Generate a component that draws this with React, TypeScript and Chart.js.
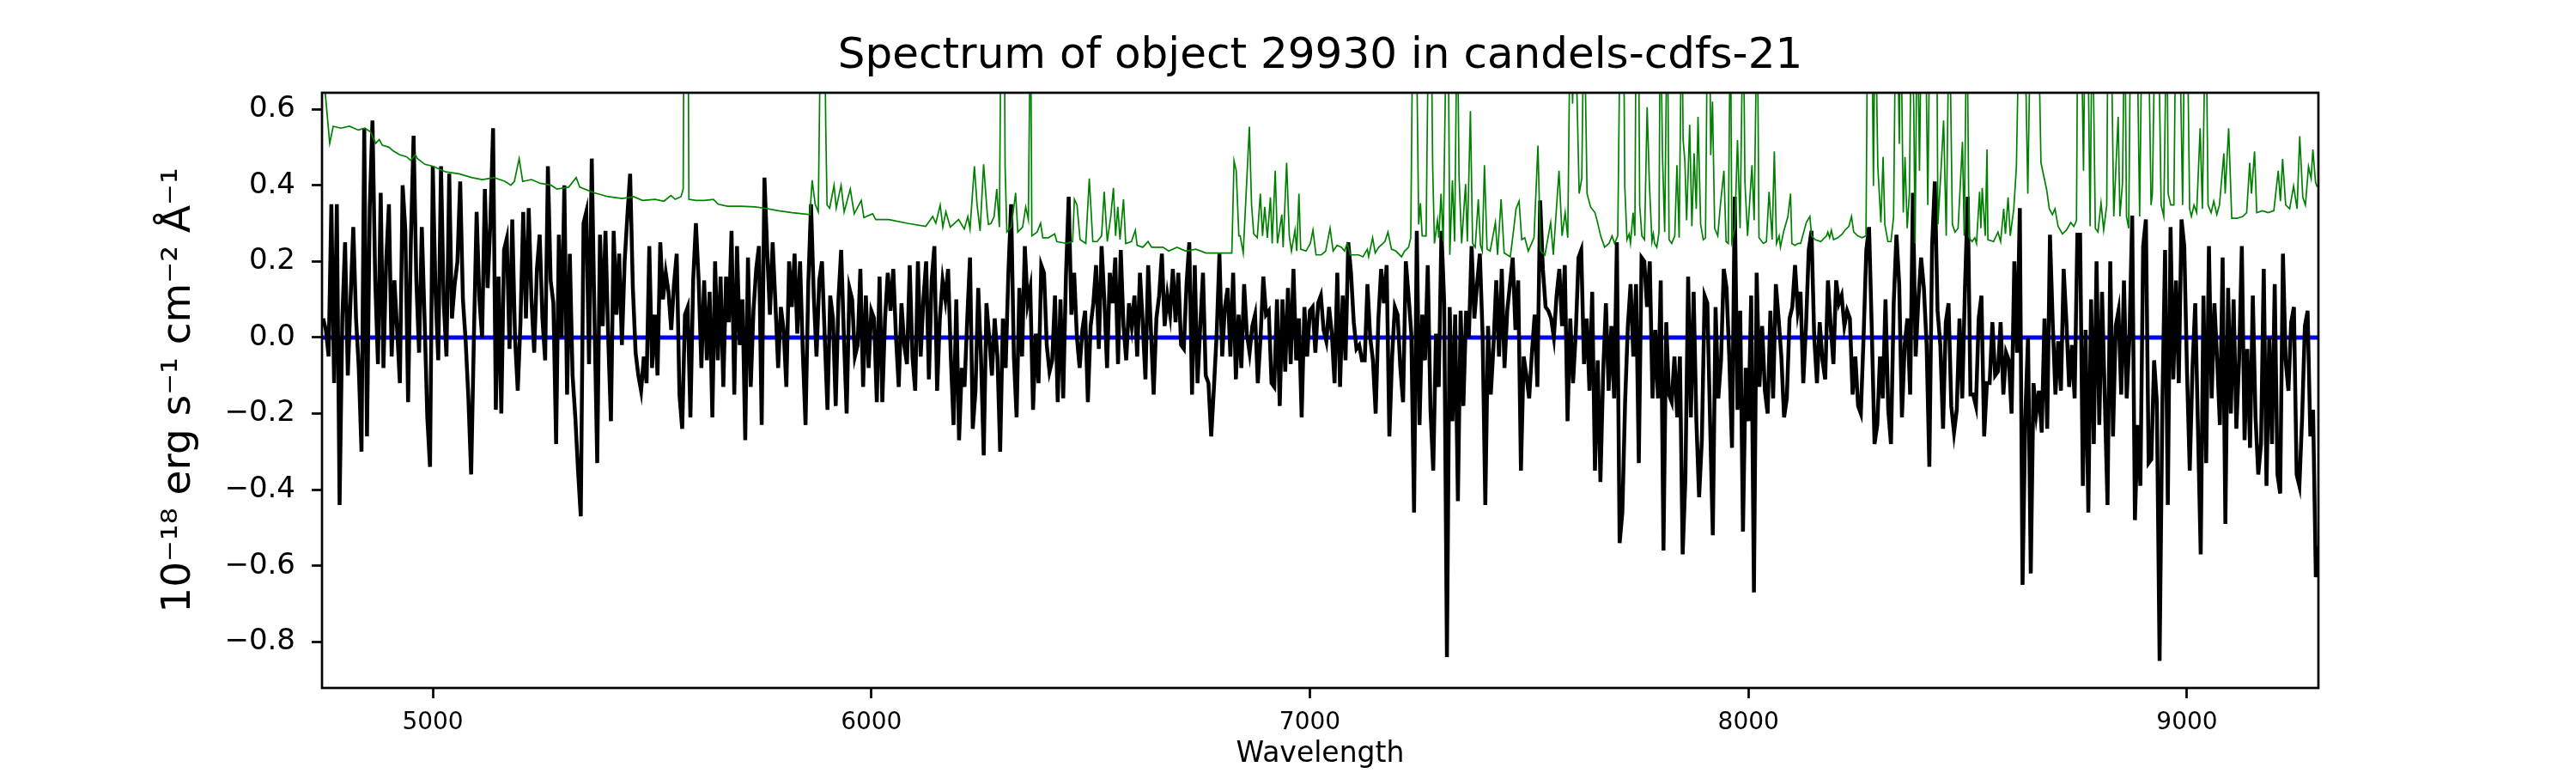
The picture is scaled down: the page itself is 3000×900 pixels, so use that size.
import { useEffect, useRef } from "react";
import Chart from "chart.js/auto";

const TITLE = "Spectrum of object 29930 in candels-cdfs-21";
const X_LABEL = "Wavelength";
const Y_LABEL = "10\u207B\u00B9\u2078 erg s\u207B\u00B9 cm\u207B\u00B2 \u00C5\u207B\u00B9";

// wavelength grid of the flux spectrum (Angstrom)
const WAVE_START = 4750;
const WAVE_STEP = 6.25;

// object flux, one value per grid step
const FLUX = [
  // 4750 - 5506
  0.05, 0.02, -0.05, 0.35, -0.12, 0.35, -0.44, 0.05, 0.25, -0.10,
  0.10, 0.29, 0.05, -0.08, -0.30, 0.55, -0.26, 0.34, 0.57, 0.15,
  -0.07, 0.38, -0.08, 0.20, 0.35, -0.05, 0.15, 0.02, -0.12, 0.40,
  0.28, -0.17, 0.25, 0.53, 0.15, -0.04, 0.29, 0.05, -0.21, -0.34,
  0.45, 0.12, -0.06, 0.45, 0.09, -0.05, 0.43, 0.05, 0.14, 0.20,
  0.41, 0.10, -0.01, -0.16, -0.36, 0.00, 0.33, 0.10, 0.00, 0.39,
  0.13, 0.30, 0.55, -0.19, 0.16, -0.20, 0.23, 0.26, -0.03, 0.31,
  0.00, -0.14, 0.04, 0.33, 0.05, 0.34, 0.10, -0.04, 0.18, 0.27,
  0.05, -0.06, 0.45, 0.15, 0.09, -0.28, 0.27, 0.00, 0.40, -0.15,
  0.22, -0.10, -0.21, -0.35, -0.47, 0.30, 0.33, -0.07, 0.47, 0.05,
  -0.33, 0.27, 0.03, 0.28, 0.00, -0.22, 0.28, 0.06, 0.22, -0.02,
  0.20, 0.32, 0.43, 0.13, -0.04, -0.10, -0.14, -0.05, -0.12, 0.24,
  -0.08, 0.06,
  // 5512 - 6262
  -0.10, 0.25, 0.10, 0.17, 0.12, 0.02, 0.14, 0.22, -0.15, -0.24,
  0.06, 0.08, -0.21, 0.15, 0.30, 0.15, -0.08, 0.15, -0.06, 0.12,
  -0.21, 0.20, -0.06, 0.16, -0.13, 0.16, 0.04, 0.28, -0.15, 0.24,
  -0.02, 0.10, -0.27, 0.21, -0.13, 0.07, 0.18, 0.24, -0.23, 0.42,
  0.23, 0.06, 0.25, 0.09, -0.08, 0.08, 0.02, -0.13, 0.20, 0.08,
  0.22, 0.01, 0.20, -0.04, -0.23, 0.14, 0.35, 0.11, -0.05, 0.15,
  0.20, 0.00, -0.19, 0.11, 0.05, -0.18, 0.10, 0.23, 0.00, -0.20,
  0.13, 0.10, -0.05, -0.02, 0.18, -0.13, 0.11, -0.08, 0.07, 0.05,
  -0.17, 0.16, -0.17, 0.05, 0.17, 0.07, 0.18, 0.00, -0.13, 0.09,
  -0.02, -0.07, 0.19, -0.05, -0.14, 0.20, -0.05, 0.10, 0.20, -0.11,
  0.15, 0.24, -0.14, 0.05, 0.15, 0.10, 0.18, -0.05, -0.23, 0.10,
  -0.27, -0.08, -0.13, 0.05, 0.21, -0.24, -0.14, 0.13, -0.05, -0.31,
  0.09,
  // 6269 - 7025
  0.00, -0.10, 0.05, -0.05, -0.30, 0.05, -0.08, 0.17, 0.35, -0.05,
  -0.21, 0.13, -0.05, 0.24, 0.09, 0.13, -0.19, 0.01, -0.12, 0.19,
  0.17, -0.02, -0.09, -0.06, 0.11, -0.17, 0.10, -0.16, 0.16, 0.37,
  0.06, 0.17, 0.00, -0.08, 0.02, 0.07, -0.17, 0.03, 0.09, 0.19,
  -0.03, 0.24, 0.10, -0.08, 0.17, 0.09, 0.21, -0.07, 0.23, 0.03,
  -0.06, 0.09, 0.03, 0.11, -0.05, 0.17, 0.04, -0.11, 0.19, 0.02,
  -0.15, 0.05, 0.11, 0.22, 0.03, 0.11, 0.06, 0.18, 0.04, 0.17,
  -0.02, -0.03, 0.14, 0.25, -0.15, 0.19, -0.12, 0.03, 0.17, -0.10,
  -0.12, -0.26, -0.13, 0.01, 0.22, -0.05, 0.08, 0.13, -0.05, 0.17,
  -0.11, 0.06, -0.08, 0.14, 0.01, -0.04, 0.03, 0.06, -0.12, 0.00,
  0.16, 0.06, 0.07, -0.12, -0.13, 0.10, -0.18, 0.10, -0.09, 0.13,
  -0.07, 0.18, -0.06, 0.05, -0.21, 0.08, -0.05, 0.07, 0.08, -0.04,
  0.09, 0.11,
  // 7031 - 7781
  0.02, -0.01, 0.08, 0.01, -0.12, 0.17, -0.13, 0.11, -0.06, 0.25,
  0.17, 0.04, -0.03, -0.02, -0.06, -0.06, 0.14, 0.00, -0.06, -0.20,
  0.05, 0.18, 0.09, 0.19, -0.26, -0.05, 0.08, 0.06, -0.08, -0.17,
  0.20, 0.11, 0.01, -0.46, 0.28, -0.23, 0.06, -0.06, 0.19, -0.19,
  -0.35, 0.01, -0.13, 0.28, 0.09, -0.84, 0.08, -0.22, 0.06, -0.43,
  0.07, -0.18, 0.07, 0.00, 0.24, 0.05, 0.14, 0.22, 0.01, -0.44,
  0.03, -0.15, -0.02, 0.15, -0.05, 0.18, -0.08, 0.07, 0.14, 0.21,
  0.02, 0.15, -0.35, -0.05, -0.10, -0.16, -0.04, 0.06, -0.13, 0.36,
  0.18, 0.08, 0.07, 0.05, 0.00, 0.11, 0.18, 0.03, 0.19, -0.22,
  0.05, -0.12, 0.01, 0.21, 0.23, -0.07, 0.05, -0.14, 0.12, -0.35,
  -0.06, -0.38, -0.09, 0.09, -0.14, 0.03, -0.16, 0.25, -0.54, -0.46,
  -0.17, 0.03, 0.14, -0.05, 0.14, -0.33, 0.21, 0.20, 0.08, 0.20,
  -0.16,
  // 7788 - 8544
  0.02, -0.16, 0.15, -0.56, 0.04, -0.15, -0.17, -0.05, -0.21, -0.05,
  -0.57, -0.37, 0.16, -0.21, 0.12, -0.22, -0.42, -0.27, 0.11, 0.09,
  -0.22, -0.52, 0.08, -0.16, -0.06, 0.18, 0.13, -0.05, -0.29, 0.37,
  -0.19, 0.07, -0.51, -0.08, -0.22, 0.11, -0.67, 0.17, -0.13, 0.03,
  -0.14, -0.20, 0.07, -0.16, 0.14, 0.05, -0.05, -0.21, -0.16, 0.05,
  0.08, 0.19, 0.07, 0.12, -0.12, 0.03, 0.23, 0.28, 0.00, -0.12,
  0.04, -0.06, -0.11, 0.15, 0.03, -0.07, 0.15, 0.09, 0.11, 0.03,
  0.07, 0.05, -0.15, -0.05, -0.18, -0.20, 0.00, 0.23, 0.29, 0.02,
  -0.28, -0.23, -0.05, -0.16, 0.10, -0.19, -0.28, 0.09, 0.27, 0.14,
  -0.21, -0.02, 0.05, -0.15, 0.38, -0.05, 0.10, 0.21, 0.13, -0.02,
  -0.34, 0.24, 0.41, 0.07, -0.02, -0.24, 0.04, 0.09, -0.18, -0.25,
  -0.19, 0.05, -0.16, 0.13, 0.37, -0.15, -0.15, -0.18, 0.05, 0.11,
  -0.26, -0.12,
  // 8550 - 9300
  -0.12, 0.04, -0.10, -0.09, 0.04, -0.15, -0.04, -0.06, -0.20, 0.20,
  -0.04, 0.34, -0.65, -0.21, 0.00, -0.62, -0.12, -0.20, -0.14, -0.25,
  0.05, -0.24, 0.27, 0.04, -0.15, -0.01, -0.14, 0.18, 0.04, -0.13,
  -0.02, -0.16, 0.27, 0.27, -0.39, 0.02, -0.46, 0.10, -0.28, 0.20,
  -0.23, 0.12, -0.16, -0.44, 0.20, -0.26, 0.03, 0.07, -0.15, 0.15,
  -0.16, 0.00, 0.32, -0.48, -0.23, -0.39, 0.24, 0.31, -0.33, -0.32,
  -0.06, -0.17, -0.85, -0.18, 0.23, -0.44, 0.29, -0.11, 0.15, -0.12,
  0.31, 0.24, -0.09, -0.35, -0.08, 0.09, -0.24, -0.57, 0.11, -0.33,
  0.24, -0.16, 0.09, -0.06, -0.23, 0.21, -0.49, 0.13, -0.20, 0.10,
  -0.24, -0.06, 0.24, -0.27, -0.03, -0.29, 0.11, -0.21, -0.36, -0.28,
  0.18, -0.39, 0.00, -0.28, 0.14, -0.36, -0.41, 0.22, -0.06, -0.14,
  0.04, 0.08, -0.36, -0.39, -0.21, 0.03, 0.07, -0.26, -0.19, -0.63,
  -0.55,
];

// noise spectrum (green), [wavelength, value]; sky lines run off the top
const NOISE = [
  [4748, 0.75], [4755, 0.64], [4765, 0.51], [4773, 0.555], [4790, 0.55], [4810, 0.555],
  [4830, 0.545], [4845, 0.55], [4858, 0.54], [4870, 0.51], [4878, 0.52], [4885, 0.505],
  [4900, 0.5], [4910, 0.49], [4925, 0.48], [4940, 0.475], [4950, 0.465], [4960, 0.48],
  [4965, 0.47], [4982, 0.455], [5000, 0.45], [5030, 0.435], [5060, 0.43], [5090, 0.42],
  [5113, 0.415], [5140, 0.42], [5165, 0.41], [5178, 0.4], [5186, 0.41], [5197, 0.47],
  [5205, 0.41], [5225, 0.415], [5245, 0.405], [5270, 0.4], [5283, 0.39], [5310, 0.395],
  [5327, 0.42], [5335, 0.395], [5368, 0.38], [5400, 0.37], [5432, 0.365], [5458, 0.37],
  [5478, 0.36],
  [5507, 0.363], [5527, 0.358], [5543, 0.373], [5553, 0.363], [5566, 0.37], [5571, 0.39],
  [5573, 0.9], [5582, 0.9], [5584, 0.363], [5600, 0.36], [5620, 0.36], [5640, 0.363],
  [5651, 0.35], [5672, 0.345], [5703, 0.345], [5735, 0.343], [5755, 0.34], [5788, 0.333],
  [5820, 0.328], [5860, 0.323], [5865, 0.413], [5872, 0.35], [5879, 0.33], [5885, 0.9],
  [5893, 0.9], [5896, 0.56], [5899, 0.348], [5905, 0.34], [5915, 0.4], [5920, 0.34],
  [5931, 0.4], [5938, 0.33], [5952, 0.39], [5961, 0.325], [5977, 0.36], [5983, 0.315],
  [6003, 0.325], [6010, 0.31], [6040, 0.31], [6082, 0.3], [6124, 0.292], [6140, 0.318],
  [6147, 0.3], [6157, 0.348], [6163, 0.29], [6170, 0.33], [6180, 0.29], [6199, 0.31],
  [6212, 0.285], [6220, 0.318], [6225, 0.285], [6235, 0.45], [6241, 0.35], [6248, 0.28],
  [6256, 0.455], [6264, 0.33],
  [6267, 0.297], [6273, 0.3], [6280, 0.318], [6286, 0.39], [6292, 0.29], [6296, 0.9],
  [6303, 0.9], [6305, 0.45], [6309, 0.277], [6319, 0.29], [6329, 0.38], [6334, 0.277],
  [6345, 0.29], [6352, 0.343], [6358, 0.31], [6363, 0.9], [6366, 0.267], [6378, 0.277],
  [6386, 0.3], [6391, 0.262], [6404, 0.262], [6418, 0.272], [6423, 0.252], [6446, 0.247],
  [6459, 0.252], [6463, 0.363], [6469, 0.348], [6476, 0.257], [6489, 0.247], [6497, 0.418],
  [6505, 0.252], [6515, 0.252], [6525, 0.267], [6531, 0.383], [6538, 0.252], [6546, 0.318],
  [6552, 0.393], [6557, 0.267], [6562, 0.343], [6567, 0.257], [6575, 0.363], [6580, 0.247],
  [6593, 0.252], [6602, 0.282], [6606, 0.242], [6619, 0.237], [6631, 0.252], [6639, 0.237],
  [6665, 0.237], [6678, 0.227], [6697, 0.237], [6717, 0.227], [6740, 0.232], [6763, 0.222],
  [6789, 0.222], [6822, 0.222], [6827, 0.464], [6832, 0.438], [6838, 0.267], [6841, 0.267],
  [6848, 0.222], [6862, 0.554], [6867, 0.348], [6872, 0.272], [6880, 0.262], [6887, 0.378],
  [6892, 0.267], [6897, 0.343], [6903, 0.262], [6910, 0.368], [6914, 0.247], [6921, 0.438],
  [6926, 0.247], [6936, 0.323], [6939, 0.237], [6947, 0.459], [6953, 0.267], [6958, 0.227],
  [6966, 0.282], [6970, 0.227], [6975, 0.378], [6979, 0.232], [6991, 0.227], [7001, 0.247],
  [7007, 0.282], [7014, 0.217],
  [7026, 0.217], [7036, 0.227], [7046, 0.287], [7053, 0.227], [7062, 0.242], [7072, 0.237],
  [7079, 0.227], [7085, 0.247], [7092, 0.217], [7111, 0.217], [7121, 0.212], [7131, 0.232],
  [7134, 0.212], [7143, 0.262], [7149, 0.222], [7157, 0.237], [7171, 0.252], [7178, 0.277],
  [7186, 0.232], [7196, 0.227], [7209, 0.212], [7216, 0.227], [7225, 0.237], [7230, 0.262],
  [7235, 0.9], [7242, 0.9], [7248, 0.297], [7252, 0.353], [7256, 0.267], [7265, 0.267],
  [7271, 0.9], [7276, 0.9], [7280, 0.449], [7284, 0.247], [7291, 0.308], [7294, 0.262],
  [7299, 0.378], [7304, 0.252], [7312, 0.9], [7315, 0.9], [7319, 0.217], [7325, 0.413],
  [7330, 0.252], [7336, 0.9], [7340, 0.428], [7346, 0.247], [7355, 0.403], [7359, 0.252],
  [7366, 0.595], [7371, 0.247], [7377, 0.237], [7384, 0.363], [7389, 0.242], [7393, 0.227],
  [7398, 0.453], [7404, 0.232], [7411, 0.227], [7423, 0.302], [7428, 0.217], [7436, 0.363],
  [7443, 0.222], [7457, 0.212], [7465, 0.287], [7470, 0.338], [7477, 0.358], [7483, 0.257],
  [7490, 0.262], [7498, 0.227], [7511, 0.262], [7520, 0.504], [7526, 0.227], [7536, 0.217],
  [7549, 0.302], [7555, 0.217], [7568, 0.438], [7575, 0.267], [7582, 0.328], [7588, 0.262],
  [7594, 0.9], [7599, 0.614], [7604, 0.9], [7614, 0.378], [7620, 0.418], [7625, 0.9],
  [7632, 0.378], [7640, 0.343], [7650, 0.328], [7656, 0.302], [7663, 0.267], [7672, 0.237],
  [7682, 0.247], [7689, 0.267], [7695, 0.247], [7702, 0.267], [7708, 0.9], [7715, 0.9],
  [7718, 0.398], [7723, 0.257], [7728, 0.272], [7731, 0.247], [7737, 0.328], [7741, 0.267],
  [7744, 0.9], [7749, 0.9], [7752, 0.348], [7757, 0.267], [7763, 0.257], [7769, 0.605],
  [7774, 0.408], [7780, 0.252], [7783, 0.272],
  [7786, 0.247], [7791, 0.237], [7796, 0.277], [7799, 0.9], [7804, 0.479], [7809, 0.277],
  [7815, 0.9], [7819, 0.257], [7825, 0.247], [7832, 0.267], [7837, 0.453], [7842, 0.262],
  [7848, 0.9], [7851, 0.519], [7855, 0.464], [7859, 0.308], [7866, 0.559], [7871, 0.292],
  [7876, 0.484], [7881, 0.338], [7885, 0.58], [7891, 0.297], [7897, 0.257], [7902, 0.262],
  [7907, 0.9], [7911, 0.9], [7914, 0.479], [7918, 0.62], [7923, 0.287], [7930, 0.267],
  [7936, 0.348], [7944, 0.438], [7949, 0.252], [7954, 0.247], [7959, 0.9], [7962, 0.252],
  [7969, 0.287], [7975, 0.519], [7981, 0.287], [7988, 0.9], [7992, 0.408], [7998, 0.267],
  [8008, 0.453], [8013, 0.308], [8020, 0.9], [8024, 0.262], [8034, 0.247], [8041, 0.252],
  [8047, 0.383], [8054, 0.257], [8059, 0.489], [8064, 0.247], [8070, 0.267], [8073, 0.237],
  [8080, 0.277], [8090, 0.318], [8096, 0.378], [8099, 0.247], [8106, 0.242], [8113, 0.247],
  [8119, 0.247], [8132, 0.302], [8135, 0.308], [8140, 0.318], [8144, 0.267], [8152, 0.257],
  [8165, 0.252], [8178, 0.267], [8181, 0.277], [8185, 0.262], [8189, 0.282], [8194, 0.257],
  [8204, 0.262], [8214, 0.272], [8220, 0.282], [8229, 0.292], [8235, 0.318], [8240, 0.277],
  [8249, 0.267], [8259, 0.262], [8268, 0.267], [8272, 0.9], [8277, 0.9], [8281, 0.9],
  [8285, 0.398], [8289, 0.9], [8295, 0.449], [8302, 0.302], [8307, 0.474], [8311, 0.297],
  [8318, 0.252], [8325, 0.252], [8331, 0.318], [8336, 0.9], [8339, 0.9], [8344, 0.509],
  [8347, 0.9], [8353, 0.328], [8357, 0.474], [8362, 0.287], [8367, 0.378], [8372, 0.9],
  [8377, 0.6], [8380, 0.247], [8385, 0.9], [8390, 0.438], [8395, 0.9], [8403, 0.9],
  [8409, 0.348], [8414, 0.9], [8418, 0.9], [8422, 0.9], [8429, 0.9], [8432, 0.297],
  [8439, 0.438], [8445, 0.57], [8451, 0.267], [8458, 0.9], [8465, 0.297], [8471, 0.277],
  [8478, 0.287], [8488, 0.514], [8492, 0.267], [8498, 0.9], [8503, 0.262], [8510, 0.252],
  [8516, 0.262], [8520, 0.247], [8527, 0.383], [8530, 0.287], [8533, 0.393], [8540, 0.267],
  [8544, 0.494],
  [8546, 0.257], [8559, 0.252], [8569, 0.277], [8575, 0.252], [8582, 0.338], [8586, 0.272],
  [8592, 0.368], [8597, 0.267], [8605, 0.338], [8611, 0.449], [8618, 0.9], [8629, 0.9],
  [8637, 0.378], [8644, 0.9], [8660, 0.9], [8667, 0.459], [8680, 0.388], [8686, 0.338],
  [8693, 0.323], [8699, 0.338], [8706, 0.292], [8716, 0.272], [8725, 0.282], [8735, 0.302],
  [8742, 0.292], [8748, 0.307], [8751, 0.9], [8758, 0.9], [8764, 0.438], [8768, 0.9],
  [8773, 0.9], [8779, 0.292], [8784, 0.9], [8791, 0.287], [8797, 0.277], [8804, 0.353],
  [8810, 0.282], [8817, 0.348], [8820, 0.9], [8826, 0.9], [8833, 0.318], [8843, 0.58],
  [8847, 0.318], [8853, 0.408], [8858, 0.9], [8862, 0.318], [8867, 0.287], [8872, 0.9],
  [8885, 0.9], [8892, 0.318], [8898, 0.9], [8911, 0.9], [8918, 0.348], [8921, 0.378],
  [8928, 0.9], [8934, 0.9], [8941, 0.348], [8947, 0.318], [8954, 0.9], [8957, 0.378],
  [8963, 0.348], [8970, 0.348], [8975, 0.9], [8982, 0.9], [8990, 0.348], [8995, 0.9],
  [9000, 0.9], [9006, 0.338], [9010, 0.318], [9016, 0.348], [9022, 0.328], [9030, 0.55],
  [9035, 0.338], [9043, 0.9], [9048, 0.348], [9055, 0.328], [9061, 0.358], [9068, 0.323],
  [9074, 0.348], [9084, 0.484], [9087, 0.378], [9095, 0.55], [9102, 0.313], [9114, 0.313],
  [9127, 0.318], [9136, 0.328], [9143, 0.459], [9147, 0.378], [9154, 0.489], [9159, 0.328],
  [9172, 0.333], [9185, 0.328], [9198, 0.333], [9208, 0.438], [9213, 0.358], [9218, 0.469],
  [9225, 0.348], [9234, 0.338], [9243, 0.398], [9251, 0.338], [9257, 0.529], [9264, 0.368],
  [9270, 0.348], [9277, 0.449], [9283, 0.418], [9287, 0.494], [9293, 0.408], [9296, 0.398],
  [9300, 0.4],
];

// model (blue), flat at zero
const MODEL_WAVE = [4747.4, 9299.6];
const MODEL_FLUX = [0.0, 0.0];

const X_TICKS = [5000, 6000, 7000, 8000, 9000];
const Y_TICKS = [-0.8, -0.6, -0.4, -0.2, 0.0, 0.2, 0.4, 0.6];

const FONT = "'DejaVu Sans', sans-serif";

// box round the plot area, like matplotlib spines
const framePlugin = {
  id: "frame",
  afterDatasetsDraw(chart: Chart) {
    const { ctx, chartArea } = chart;
    ctx.save();
    ctx.strokeStyle = "#000";
    ctx.lineWidth = 2.7;
    ctx.strokeRect(chartArea.left, chartArea.top, chartArea.right - chartArea.left, chartArea.bottom - chartArea.top);
    ctx.restore();
  },
};

const SpectrumChart = () => {
  const chartRef = useRef<HTMLCanvasElement>(null);

  useEffect(() => {
    const flux = FLUX.map((y, i) => ({ x: WAVE_START + i * WAVE_STEP, y }));
    const noise = NOISE.map(([x, y]) => ({ x, y }));
    const model = MODEL_WAVE.map((x, i) => ({ x, y: MODEL_FLUX[i] }));

    const chartInstance = new Chart(chartRef.current as HTMLCanvasElement, {
      type: "line",
      data: {
        datasets: [
          { label: "noise", data: noise, borderColor: "#008000", borderWidth: 1.7, pointRadius: 0, tension: 0, clip: 0, order: 1 },
          { label: "flux", data: flux, borderColor: "#000000", borderWidth: 4.5, pointRadius: 0, tension: 0, clip: 0, order: 2 },
          { label: "model", data: model, borderColor: "#0000ff", borderWidth: 5, pointRadius: 0, tension: 0, clip: 0, order: 3 },
        ],
      },
      plugins: [framePlugin],
      options: {
        animation: false,
        responsive: false,
        devicePixelRatio: 1,
        events: [],
        layout: { padding: { left: 0, right: 300, top: 0, bottom: 0 } },
        scales: {
          x: {
            type: "linear",
            min: 4747.4,
            max: 9299.6,
            afterBuildTicks: (scale) => {
              scale.ticks = X_TICKS.map((value) => ({ value }));
            },
            afterFit: (scale) => {
              scale.height = 99;
            },
            border: { display: false },
            grid: { drawOnChartArea: false, drawTicks: true, tickLength: 12, tickWidth: 2.7, tickColor: "#000", color: "#000" },
            ticks: {
              autoSkip: false,
              maxRotation: 0,
              padding: 12,
              color: "#000",
              font: { family: FONT, size: 28 },
              callback: (value) => String(value),
            },
            title: {
              display: true,
              text: X_LABEL,
              color: "#000",
              font: { family: FONT, size: 33 },
              padding: { top: 0, bottom: 2 },
            },
          },
          y: {
            type: "linear",
            min: -0.921,
            max: 0.643,
            afterBuildTicks: (scale) => {
              scale.ticks = Y_TICKS.map((value) => ({ value }));
            },
            afterFit: (scale) => {
              scale.width = 375;
            },
            border: { display: false },
            grid: { drawOnChartArea: false, drawTicks: true, tickLength: 12, tickWidth: 2.7, tickColor: "#000", color: "#000" },
            ticks: {
              padding: 19,
              color: "#000",
              font: { family: FONT, size: 34 },
              callback: (value) => Number(value).toFixed(1).replace("-", "\u2212"),
            },
            title: {
              display: true,
              text: Y_LABEL,
              color: "#000",
              font: { family: FONT, size: 47 },
              padding: { top: 181, bottom: 0 },
            },
          },
        },
        plugins: {
          legend: { display: false },
          tooltip: { enabled: false },
          title: {
            display: true,
            text: TITLE,
            fullSize: false,
            color: "#000",
            font: { family: FONT, size: 50, weight: "normal" },
            padding: { top: 36, bottom: 12 },
          },
        },
      },
    });

    return () => chartInstance.destroy();
  }, []);

  return (
    <div style={{ position: "absolute", left: 0, top: 0, width: 3000, height: 900, background: "#fff" }}>
      <canvas ref={chartRef} width={3000} height={900} style={{ display: "block" }} />
    </div>
  );
};

export default function App() {
  return <SpectrumChart />;
}
